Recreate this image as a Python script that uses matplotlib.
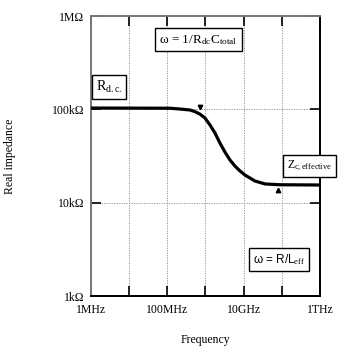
import numpy as np
import matplotlib.pyplot as plt
from matplotlib.ticker import FixedLocator, FixedFormatter, NullLocator

plt.rcParams['font.family'] = ['Liberation Serif', 'DejaVu Serif']
plt.rcParams['mathtext.fontset'] = 'custom'
plt.rcParams['mathtext.rm'] = 'Liberation Serif'
plt.rcParams['mathtext.it'] = 'Liberation Serif'

# curve (Hz, ohm)
freq = [1e6, 1.18e8, 2.15e8, 3.94e8, 5.3e8, 7.2e8, 9.7e8, 1.32e9, 1.78e9, 2.4e9,
        3.25e9, 4.4e9, 5.95e9, 8.05e9, 1.09e10, 1.99e10, 3.64e10, 9e10, 1e12]
resist = [103.5e3, 103e3, 101e3, 98.6e3, 94.8e3, 89e3, 81e3, 68e3, 55.8e3, 43.6e3,
          34.9e3, 28.7e3, 24.7e3, 21.9e3, 19.8e3, 17.1e3, 15.9e3, 15.6e3, 15.5e3]

# the two little triangle markers
mark_down = (7.2e8, 107e3)
mark_up = (7.8e10, 13.7e3)

xticks = [1e6, 1e7, 1e8, 1e9, 1e10, 1e11, 1e12]
xlabels = ['1MHz', '', '100MHz', '', '10GHz', '', '1THz']
yticks = [1e3, 1e4, 1e5, 1e6]
ylabels = ['1kΩ', '10kΩ', '100kΩ', '1MΩ']

fig = plt.figure(figsize=(3.5, 3.5), dpi=100)
ax = fig.add_axes([0.26, 0.154, 0.654, 0.80])

ax.set_xscale('log')
ax.set_yscale('log')
ax.set_xlim(1e6, 1e12)
ax.set_ylim(1e3, 1e6)

# dotted grid
for x in xticks[1:-1]:
    ax.axvline(x, color='#888888', lw=0.6, ls=(0, (1.5, 1.5)), zorder=1)
for y in yticks[1:-1]:
    ax.axhline(y, color='#888888', lw=0.6, ls=(0, (1.5, 1.5)), zorder=1)

ax.plot(freq, resist, color='black', lw=2.3, zorder=3,
        solid_capstyle='butt', solid_joinstyle='round')
ax.plot(*mark_down, marker='v', color='black', ms=3.2, zorder=4)
ax.plot(*mark_up, marker='^', color='black', ms=3.2, zorder=4)

ax.xaxis.set_major_locator(FixedLocator(xticks))
ax.xaxis.set_major_formatter(FixedFormatter(xlabels))
ax.xaxis.set_minor_locator(NullLocator())
ax.yaxis.set_major_locator(FixedLocator(yticks))
ax.yaxis.set_major_formatter(FixedFormatter(ylabels))
ax.yaxis.set_minor_locator(NullLocator())
ax.tick_params(direction='in', length=7, width=1.2, top=True, right=True,
               labelsize=8.5, colors='black', pad=5)
ax.tick_params(axis='x', pad=6)

for side in ['left', 'top']:
    ax.spines[side].set_color('#777777')
for side in ['bottom', 'right']:
    ax.spines[side].set_color('black')
for s in ax.spines.values():
    s.set_linewidth(1.4)

box = dict(boxstyle='square,pad=0.35', fc='white', ec='black', lw=1.0)
ax.text(1.35e6, 1.75e5, r'R$_{\mathrm{d.c.}}$', fontsize=10, ha='left', va='center',
        bbox=dict(boxstyle='square,pad=0.3', fc='white', ec='black', lw=1.0))
ax.text(0.47, 0.915, r'$\omega$ = 1/R$_{\mathrm{dc}}$C$_{\mathrm{total}}$', transform=ax.transAxes,
        fontsize=9.5, ha='center', va='center', bbox=box)
ax.text(0.955, 0.465, r'Z$_{\mathrm{c,effective}}$', transform=ax.transAxes,
        fontsize=8.5, ha='center', va='center', bbox=box, clip_on=False)
ax.text(0.82, 0.13, r'ω = R/L$_{\mathrm{eff}}$', transform=ax.transAxes,
        fontsize=8.5, ha='center', va='center', bbox=box, family=['Liberation Sans', 'DejaVu Sans'])

fig.text(0.03, 0.554, 'Real impedance', rotation=90, ha='center', va='center', fontsize=8.5)
fig.text(0.586, 0.028, 'Frequency', ha='center', va='center', fontsize=8.5)

fig.savefig('out.png', dpi=100)
